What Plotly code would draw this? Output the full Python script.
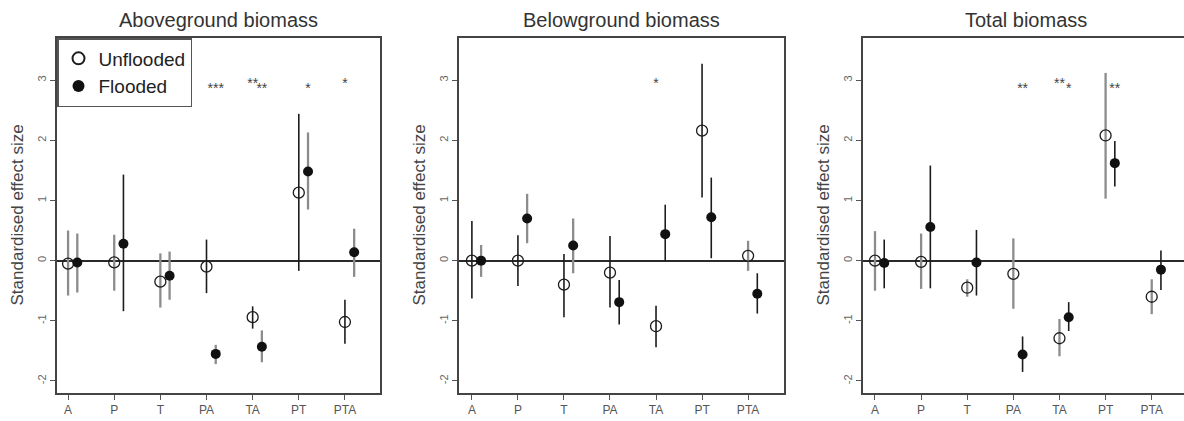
import plotly.graph_objects as go

# ---------------- data ----------------
CATS = ["A", "P", "T", "PA", "TA", "PT", "PTA"]
TITLES = ["Aboveground biomass", "Belowground biomass", "Total biomass"]
Y_TITLE = "Standardised effect size"
SERIES = ["Unflooded", "Flooded"]

# Aboveground
above_unf_mean = [-0.05, -0.03, -0.35, -0.10, -0.94, 1.13, -1.02]
above_unf_lo = [-0.58, -0.50, -0.78, -0.54, -1.13, -0.17, -1.38]
above_unf_hi = [0.50, 0.43, 0.12, 0.35, -0.76, 2.44, -0.65]
above_fld_mean = [-0.03, 0.28, -0.25, -1.55, -1.43, 1.48, 0.14]
above_fld_lo = [-0.53, -0.84, -0.65, -1.72, -1.69, 0.85, -0.27]
above_fld_hi = [0.45, 1.43, 0.15, -1.40, -1.16, 2.13, 0.53]
above_sig_unf = ["", "", "", "", "**", "", "*"]
above_sig_fld = ["", "", "", "***", "**", "*", ""]

# Belowground
below_unf_mean = [0.00, 0.00, -0.40, -0.20, -1.09, 2.16, 0.08]
below_unf_lo = [-0.63, -0.42, -0.94, -0.78, -1.44, 1.05, -0.17]
below_unf_hi = [0.66, 0.42, 0.11, 0.41, -0.75, 3.27, 0.33]
below_fld_mean = [0.00, 0.70, 0.25, -0.69, 0.44, 0.72, -0.55]
below_fld_lo = [-0.27, 0.29, -0.21, -1.06, -0.01, 0.04, -0.88]
below_fld_hi = [0.26, 1.11, 0.70, -0.32, 0.93, 1.38, -0.21]
below_sig_unf = ["", "", "", "", "*", "", ""]
below_sig_fld = ["", "", "", "", "", "", ""]

# Total
total_unf_mean = [0.00, -0.02, -0.45, -0.22, -1.29, 2.08, -0.60]
total_unf_lo = [-0.50, -0.47, -0.60, -0.80, -1.59, 1.03, -0.89]
total_unf_hi = [0.49, 0.45, -0.31, 0.37, -0.97, 3.12, -0.31]
total_fld_mean = [-0.04, 0.56, -0.03, -1.56, -0.94, 1.62, -0.15]
total_fld_lo = [-0.46, -0.46, -0.58, -1.85, -1.17, 1.23, -0.49]
total_fld_hi = [0.35, 1.58, 0.51, -1.26, -0.69, 1.99, 0.17]
total_sig_unf = ["", "", "", "", "**", "", ""]
total_sig_fld = ["", "", "", "**", "*", "**", ""]

# ---------------- styling ----------------
# interval line shade per point: "k" dark, "g" grey
SHADE = [
    (["g", "g", "g", "k", "k", "k", "k"], ["g", "k", "g", "g", "g", "g", "g"]),
    (["k", "k", "k", "k", "k", "k", "g"], ["g", "g", "g", "k", "k", "k", "k"]),
    (["g", "g", "g", "g", "g", "g", "g"], ["k", "k", "k", "k", "k", "k", "k"]),
]
LINE_STYLE = {"k": dict(color="#1c1c1c", width=1.6), "g": dict(color="#8c8c8c", width=2.3)}
FONT = "Liberation Sans, Arial, sans-serif"
W, H = 1184, 421
TOP_PX, BOT_PX = 38, 393
X_DOMAINS_PX = [(57, 380), (459, 784), (863, 1184)]
X_RANGES = [[0.76, 7.76], [0.72, 7.78], [0.74, 7.70]]
Y_RANGE = [-2.2, 3.7]
OFFSET = 0.2
SIG_Y = (2.92, 2.84)

panels = [
    (above_unf_mean, above_unf_lo, above_unf_hi, above_fld_mean, above_fld_lo, above_fld_hi, above_sig_unf, above_sig_fld),
    (below_unf_mean, below_unf_lo, below_unf_hi, below_fld_mean, below_fld_lo, below_fld_hi, below_sig_unf, below_sig_fld),
    (total_unf_mean, total_unf_lo, total_unf_hi, total_fld_mean, total_fld_lo, total_fld_hi, total_sig_unf, total_sig_fld),
]

fig = go.Figure()
pos = list(range(1, len(CATS) + 1))

for p, (um, ul, uh, fm, fl, fh, su, sf) in enumerate(panels):
    xa = "x" if p == 0 else f"x{p+1}"
    ya = "y" if p == 0 else f"y{p+1}"
    series = [(pos, um, ul, uh, SHADE[p][0]), ([v + OFFSET for v in pos], fm, fl, fh, SHADE[p][1])]
    for shade in ["g", "k"]:
        xs, ys = [], []
        for xv, m, lo, hi, sh in series:
            for i in range(len(CATS)):
                if sh[i] == shade:
                    xs += [xv[i], xv[i], None]
                    ys += [lo[i], hi[i], None]
        if xs:
            fig.add_trace(go.Scatter(x=xs, y=ys, mode="lines", line=LINE_STYLE[shade],
                                     xaxis=xa, yaxis=ya, showlegend=False, hoverinfo="skip"))
    fig.add_trace(go.Scatter(x=pos, y=um, mode="markers", name=SERIES[0],
                             marker=dict(symbol="circle-open", size=11, color="#1c1c1c",
                                         line=dict(width=1.3, color="#1c1c1c")),
                             xaxis=xa, yaxis=ya, showlegend=(p == 0), legendgroup="u"))
    fig.add_trace(go.Scatter(x=[v + OFFSET for v in pos], y=fm, mode="markers", name=SERIES[1],
                             marker=dict(symbol="circle", size=10, color="#111111"),
                             xaxis=xa, yaxis=ya, showlegend=(p == 0), legendgroup="f"))
    fig.add_trace(go.Scatter(x=pos, y=[SIG_Y[0]] * len(CATS), text=su, mode="text",
                             textfont=dict(family=FONT, size=14, color="#444"),
                             xaxis=xa, yaxis=ya, showlegend=False, hoverinfo="skip"))
    fig.add_trace(go.Scatter(x=[v + OFFSET for v in pos], y=[SIG_Y[1]] * len(CATS), text=sf, mode="text",
                             textfont=dict(family=FONT, size=14, color="#444"),
                             xaxis=xa, yaxis=ya, showlegend=False, hoverinfo="skip"))

layout = dict(
    width=W, height=H, margin=dict(l=0, r=0, t=0, b=0),
    paper_bgcolor="white", plot_bgcolor="white",
    font=dict(family=FONT, color="#333"),
    legend=dict(x=57 / W, y=1 - TOP_PX / H, xanchor="left", yanchor="top",
                bordercolor="#555", borderwidth=1.5, bgcolor="white",
                font=dict(family=FONT, size=19, color="#222"),
                itemsizing="constant", tracegroupgap=0),
    annotations=[],
)
ydom = [1 - BOT_PX / H, 1 - TOP_PX / H]
for p in range(3):
    sfx = "" if p == 0 else str(p + 1)
    x0, x1 = X_DOMAINS_PX[p]
    layout["xaxis" + sfx] = dict(
        domain=[x0 / W, min(x1 / W, 1.0)], range=X_RANGES[p], anchor="y" + sfx,
        tickmode="array", tickvals=pos, ticktext=CATS,
        ticks="outside", ticklen=5, tickwidth=1.2, tickcolor="#555",
        tickfont=dict(family=FONT, size=12, color="#555"),
        showline=True, mirror=True, linecolor="#444", linewidth=1.6,
        showgrid=False, zeroline=False, fixedrange=True)
    layout["yaxis" + sfx] = dict(
        domain=ydom, range=Y_RANGE, anchor="x" + sfx,
        tickmode="array", tickvals=[-2, -1, 0, 1, 2, 3], ticktext=["-2", "-1", "0", "1", "2", "3"],
        tickangle=-90, ticks="outside", ticklen=5, tickwidth=1.2, tickcolor="#555",
        tickfont=dict(family=FONT, size=11, color="#666"),
        showline=True, mirror=(p < 2), linecolor="#444", linewidth=1.6,
        showgrid=False, zeroline=True, zerolinecolor="#2a2a2a", zerolinewidth=1.6,
        fixedrange=True)
    full_center = (x0 + (x0 + 325)) / 2 if p == 2 else (x0 + x1) / 2
    layout["annotations"].append(dict(
        text=TITLES[p], x=full_center / W, y=1 - 20 / H, xref="paper", yref="paper",
        xanchor="center", yanchor="middle", showarrow=False,
        font=dict(family=FONT, size=20, color="#333")))
    layout["annotations"].append(dict(
        text=Y_TITLE, x=(x0 - 40) / W, y=1 - ((TOP_PX + BOT_PX) / 2) / H, xref="paper", yref="paper",
        xanchor="center", yanchor="middle", textangle=-90, showarrow=False,
        font=dict(family=FONT, size=17, color="#444")))

fig.update_layout(**layout)
fig.write_html("out.html", config={"displayModeBar": False},
               post_script="document.body.style.margin='0';document.body.style.overflow='hidden';")
